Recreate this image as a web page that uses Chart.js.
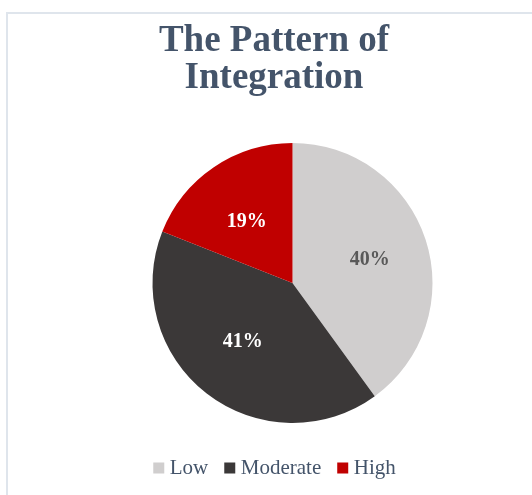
<!DOCTYPE html>
<html lang="en">
<head>
    <meta charset="UTF-8" />
    <title>The Pattern of Integration</title>
    <script src="https://cdn.jsdelivr.net/npm/chart.js@4.4.1/dist/chart.umd.min.js"></script>
    <style>
        html, body { margin: 0; padding: 0; background: #fff; overflow: hidden; }
        #frame {
            position: absolute; left: 6px; top: 12px;
            width: 540px; height: 500px;
            border-left: 2px solid #dfe5ec;
            border-top: 2px solid #dfe5ec;
        }
        #box { position: absolute; left: 2px; top: 0; width: 528px; height: 481px; }
    </style>
</head>
<body>
    <div id="frame">
        <div id="box"><canvas id="pieChart"></canvas></div>
    </div>

    <script>
        const categories = ["Low", "Moderate", "High"];
        const shares = [40, 41, 19];
        const sliceColors = ["#d0cece", "#3b3838", "#c00000"];
        const labelColors = ["#595959", "#ffffff", "#ffffff"];

        const SERIF = '"Liberation Serif", "Times New Roman", serif';

        // Excel puts the pie a bit right of the title centre, legend too
        const shiftPlot = {
            id: 'shiftPlot',
            afterLayout(chart) {
                chart.chartArea.left += 18.5;
                chart.chartArea.right += 18.5;
                chart.legend.left += 3;
                chart.legend.right += 3;
            }
        };

        // percent labels inside the slices
        const sliceLabels = {
            id: 'sliceLabels',
            afterDatasetsDraw(chart) {
                const ctx = chart.ctx;
                const meta = chart.getDatasetMeta(0);
                ctx.save();
                ctx.font = 'bold 20px ' + SERIF;
                ctx.textAlign = 'center';
                ctx.textBaseline = 'middle';
                meta.data.forEach((arc, i) => {
                    const p = arc.getProps(['x', 'y', 'startAngle', 'endAngle', 'outerRadius'], true);
                    const mid = (p.startAngle + p.endAngle) / 2;
                    const r = p.outerRadius;
                    ctx.fillStyle = labelColors[i];
                    ctx.fillText(shares[i] + '%', p.x + Math.cos(mid) * r * 0.58, p.y + Math.sin(mid) * r * 0.53);
                });
                ctx.restore();
            }
        };

        new Chart(document.getElementById('pieChart'), {
            type: 'pie',
            data: {
                labels: categories,
                datasets: [{
                    data: shares,
                    backgroundColor: sliceColors,
                    borderWidth: 0,
                    radius: 140
                }]
            },
            options: {
                responsive: true,
                maintainAspectRatio: false,
                animation: false,
                layout: { padding: { bottom: 6.5 } },
                plugins: {
                    title: {
                        display: true,
                        text: ["The Pattern of", "Integration"],
                        color: '#44546a',
                        font: { family: SERIF, size: 37, weight: 'bold', lineHeight: 1.0 },
                        padding: { top: 8.5, bottom: 33 }
                    },
                    legend: {
                        position: 'bottom',
                        labels: {
                            color: '#44546a',
                            font: { family: SERIF, size: 21 },
                            usePointStyle: true,
                            pointStyle: 'rect',
                            boxWidth: 1,
                            boxHeight: 11,
                            padding: 21
                        }
                    },
                    tooltip: { enabled: false }
                }
            },
            plugins: [shiftPlot, sliceLabels]
        });
    </script>
</body>
</html>
